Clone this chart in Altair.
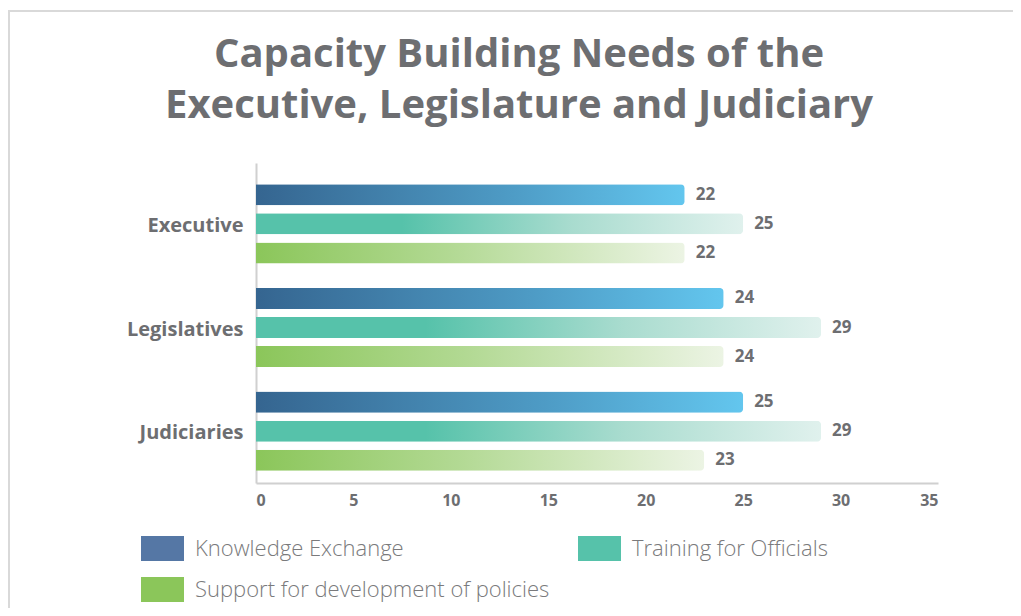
import altair as alt
import pandas as pd

categories = ["Executive", "Legislatives", "Judiciaries"]
series = ["Knowledge Exchange", "Training for Officials", "Support for development of policies"]
knowledge = [22, 24, 25]
training = [25, 29, 29]
support = [22, 24, 23]
x_ticks = [0, 5, 10, 15, 20, 25, 30, 35]

legend_colors = ["#5577a5", "#56c2aa", "#8bc65a"]
gradients = [
    [("#356590", 0.0), ("#4e9cc6", 0.6), ("#63c6ee", 1.0)],
    [("#56c2aa", 0.0), ("#56c2aa", 0.3), ("#a9dccf", 0.65), ("#e0f1ed", 1.0)],
    [("#8bc65a", 0.0), ("#b2d993", 0.45), ("#ecf4e4", 1.0)],
]

rows = []
for s, vals in zip(series, [knowledge, training, support]):
    for c, v in zip(categories, vals):
        rows.append({"category": c, "series": s, "value": v})
df = pd.DataFrame(rows)

GRAY = "#6d6e71"
FONT = "Open Sans"

x_enc = alt.X("value:Q", scale=alt.Scale(domain=[0, 35], nice=False),
              axis=alt.Axis(values=x_ticks, title=None, ticks=False, grid=False,
                            domainColor="#d0d0d0", domainWidth=2,
                            labelFont=FONT, labelFontWeight="bold", labelFontSize=16,
                            labelColor=GRAY, labelPadding=9))
y_enc = alt.Y("category:N", sort=categories,
              scale=alt.Scale(paddingInner=0, paddingOuter=0.0435, align=1),
              axis=alt.Axis(title=None, ticks=False, grid=False,
                            domainColor="#d0d0d0", domainWidth=2,
                            labelFont=FONT, labelFontWeight="bold", labelFontSize=20,
                            labelColor=GRAY, labelPadding=13, labelOffset=2))
yoff_enc = alt.YOffset("series:N", sort=series,
                       scale=alt.Scale(domain=series, paddingInner=0.276, paddingOuter=0.4224))

color_enc = alt.Color("series:N", sort=series,
                      scale=alt.Scale(domain=series, range=legend_colors),
                      legend=alt.Legend(orient="none", legendX=-115, legendY=364,
                                        columns=2, direction="horizontal", title=None,
                                        symbolType="M-1,-0.58H1V0.58H-1Z",
                                        symbolSize=1849, symbolStrokeWidth=0,
                                        symbolOpacity=1,
                                        labelFont=FONT, labelFontSize=22,
                                        labelFontWeight=300, labelColor="#7a7a7c",
                                        labelOffset=11, labelLimit=500,
                                        columnPadding=28, rowPadding=7))

# invisible bars that carry the legend
legend_layer = alt.Chart(df).mark_bar(opacity=0).encode(
    x=x_enc, y=y_enc, yOffset=yoff_enc, color=color_enc)

layers = []
for s, g in zip(series, gradients):
    grad = alt.Gradient(gradient="linear", x1=0, y1=0, x2=1, y2=0,
                        stops=[alt.GradientStop(color=c, offset=o) for c, o in g])
    layers.append(
        alt.Chart(df).transform_filter(alt.datum.series == s)
        .mark_bar(cornerRadiusEnd=4, fill=grad)
        .encode(x=x_enc, y=y_enc, yOffset=yoff_enc)
    )

labels = alt.Chart(df).mark_text(align="left", baseline="middle", dx=11,
                                 font=FONT, fontWeight="bold", fontSize=17,
                                 color=GRAY).encode(
    x=x_enc, y=y_enc, yOffset=yoff_enc, text="value:Q")

border_df = pd.DataFrame({"k": [0]})
border_top = alt.Chart(border_df).mark_rule(color="#d9d9d9", strokeWidth=2).encode(
    x=alt.value(-247), x2=alt.value(770), y=alt.value(-152))
border_left = alt.Chart(border_df).mark_rule(color="#d9d9d9", strokeWidth=2).encode(
    x=alt.value(-247), y=alt.value(-153), y2=alt.value(460))

chart = alt.layer(border_top, border_left, legend_layer, *layers, labels).properties(
    width=682, height=320,
    title=alt.TitleParams(["Capacity Building Needs of the",
                           "Executive, Legislature and Judiciary"],
                          font=FONT, fontSize=40, fontWeight="bold", color=GRAY,
                          lineHeight=51, anchor="middle", dx=-78,
                          baseline="alphabetic", offset=-149),
    autosize=alt.AutoSizeParams(type="none"),
    padding={"left": 248, "top": 155, "right": 75, "bottom": 125},
).configure_view(stroke=None)

chart.save("out.html", embed_options={"renderer": "svg", "actions": False})
